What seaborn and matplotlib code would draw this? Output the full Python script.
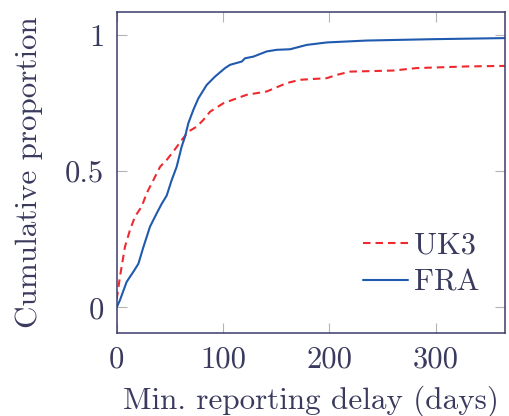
import matplotlib
matplotlib.use("Agg")
import matplotlib.pyplot as plt
import seaborn as sns
import pandas as pd

# ---- data ----
fra_days = [0, 3.1, 9.4, 15.7, 20.4, 25, 31.3, 37.6, 42.3, 47, 51.7, 56.4, 61.1, 64.3,
            67.4, 72.1, 76.8, 84.6, 92.5, 101.9, 106.6, 117.6, 120.7, 128.5, 141, 150.5,
            163, 178.7, 197.5, 235, 297.8, 365]
fra_prop = [0, 0.027, 0.094, 0.131, 0.16, 0.22, 0.296, 0.345, 0.38, 0.41, 0.467, 0.516,
            0.59, 0.627, 0.676, 0.725, 0.767, 0.816, 0.847, 0.878, 0.89, 0.902, 0.914,
            0.92, 0.939, 0.945, 0.947, 0.963, 0.972, 0.979, 0.984, 0.988]
uk3_days = [0, 3.1, 7.8, 12.5, 17.2, 23.5, 28.2, 34.5, 40.8, 47, 53.3, 61.1, 67.4, 75.2,
            81.5, 87.8, 100.3, 112.9, 122.3, 141, 159.9, 172.4, 197.5, 206.9, 219.4,
            260.2, 282.1, 329.2, 365]
uk3_prop = [0.03, 0.113, 0.223, 0.284, 0.333, 0.37, 0.419, 0.467, 0.516, 0.541, 0.572,
            0.614, 0.645, 0.663, 0.688, 0.718, 0.749, 0.767, 0.78, 0.792, 0.823, 0.835,
            0.841, 0.853, 0.865, 0.869, 0.878, 0.884, 0.886]
series_names = ["UK3", "FRA"]
x_ticks = [0, 100, 200, 300]
y_ticks = [0, 0.5, 1]
y_tick_labels = ["0", "0.5", "1"]

df = pd.concat([
    pd.DataFrame({"days": uk3_days, "prop": uk3_prop, "series": "UK3"}),
    pd.DataFrame({"days": fra_days, "prop": fra_prop, "series": "FRA"}),
], ignore_index=True)

sns.set_style("white")
plt.rcParams["font.family"] = ["cmr10", "DejaVu Serif"]
plt.rcParams["axes.formatter.use_mathtext"] = True

TEXT = "#3a3a5e"
SPINE = "#3c3c6e"
RED = "#ee2a2f"
BLUE = "#1f5aaf"
FS = 22
LFS = 22.4

fig = plt.figure(figsize=(5.10, 4.16), dpi=100)
ax = fig.add_axes([0.2288, 0.1988, 0.990 - 0.2288, 0.972 - 0.1988])

sns.lineplot(data=df, x="days", y="prop", hue="series", style="series",
             hue_order=series_names, style_order=series_names,
             palette={"UK3": RED, "FRA": BLUE},
             dashes={"UK3": (3.6, 2.4), "FRA": ""},
             linewidth=1.5, ax=ax, estimator=None, sort=False)

ax.set_xlim(0, 365)
ax.set_ylim(-0.095, 1.085)
ax.set_xticks(x_ticks)
ax.set_xticklabels([str(t) for t in x_ticks])
ax.set_yticks(y_ticks)
ax.set_yticklabels(y_tick_labels)

ax.tick_params(axis="both", direction="in", length=7.5, width=0.8, color="#b4b4b4",
               labelsize=FS, labelcolor=TEXT, pad=9,
               top=True, right=True, bottom=True, left=True)
for s in ax.spines.values():
    s.set_visible(True)
    s.set_color(SPINE)
    s.set_linewidth(1.1)

ax.set_xlabel("Min. reporting delay (days)", fontsize=LFS, color=TEXT, labelpad=9)
ax.set_ylabel("Cumulative proportion", fontsize=LFS, color=TEXT, labelpad=16)

leg = ax.legend(loc="lower right", frameon=False, fontsize=FS, handlelength=1.45,
                handletextpad=0.2, labelspacing=0.33, borderaxespad=0.0,
                bbox_to_anchor=(0.965, 0.075))
for t in leg.get_texts():
    t.set_color(TEXT)

fig.savefig("out.png", dpi=100)
